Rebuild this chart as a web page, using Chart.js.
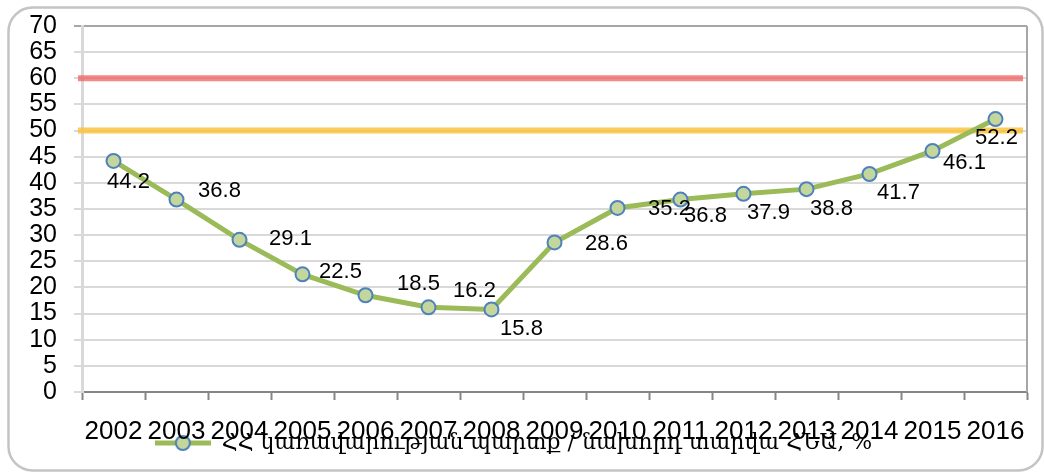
<!DOCTYPE html>
<html>
<head>
<meta charset="utf-8">
<script src="https://cdn.jsdelivr.net/npm/chart.js@4/dist/chart.umd.min.js"></script>
<style>
  html, body { margin: 0; padding: 0; background: #fff; }
  #wrap { width: 1044px; height: 475px; position: relative; }
</style>
</head>
<body>
<div id="wrap"><canvas id="chart"></canvas></div>
<script>
// data
const years = ['2002', '2003', '2004', '2005', '2006', '2007', '2008', '2009', '2010', '2011', '2012', '2013', '2014', '2015', '2016'];
const debtRatio = [44.2, 36.8, 29.1, 22.5, 18.5, 16.2, 15.8, 28.6, 35.2, 36.8, 37.9, 38.8, 41.7, 46.1, 52.2];
const thresholds = [60, 50];
const seriesName = 'ՀՀ կառավարության պարտք / նախորդ տարվա ՀՆԱ, %';

// label placement (manually nudged in the original)
const labelNudge = [[15, 21], [43, -9], [51, -1], [38, -2], [53, -11], [46, -16], [30, 20], [52, 1], [52, 1], [25, 16], [25, 19], [25, 20], [29, 19], [32, 12], [1, 19]];
const thresholdColors = ['rgba(238, 92, 92, 0.72)', 'rgba(250, 192, 50, 0.8)'];

const green = '#9bbb59';
const markerFill = '#c3d69b';
const markerEdge = '#4f81bd';

// legend symbol: line with a circle
const legendIcon = document.createElement('canvas');
legendIcon.width = 56;
legendIcon.height = 18;
(function () {
    const c = legendIcon.getContext('2d');
    c.strokeStyle = green;
    c.lineWidth = 5;
    c.beginPath();
    c.moveTo(0, 9);
    c.lineTo(56, 9);
    c.stroke();
    c.beginPath();
    c.arc(28, 9, 7, 0, Math.PI * 2);
    c.fillStyle = markerFill;
    c.fill();
    c.lineWidth = 2;
    c.strokeStyle = markerEdge;
    c.stroke();
})();

const frame = {
    id: 'frame',
    afterLayout(chart) {
        // legend sits over the lower half of the year labels, as in the original
        chart.legend.top -= 11;
        chart.legend.bottom -= 11;
    },
    beforeDraw(chart) {
        const ctx = chart.ctx;
        ctx.save();
        ctx.strokeStyle = '#c4c4c4';
        ctx.lineWidth = 2.5;
        ctx.beginPath();
        ctx.roundRect(8.5, 7.5, 1034, 463, 24);
        ctx.stroke();
        ctx.restore();
    },
    beforeDatasetsDraw(chart) {
        const ctx = chart.ctx;
        const area = chart.chartArea;
        const y = chart.scales.y;
        ctx.save();
        // right edge of plot
        ctx.strokeStyle = '#a6a6a6';
        ctx.lineWidth = 2;
        ctx.beginPath();
        ctx.moveTo(area.right, area.top);
        ctx.lineTo(area.right, area.bottom);
        ctx.stroke();
        // reference levels
        thresholds.forEach((v, i) => {
            const py = y.getPixelForValue(v);
            ctx.strokeStyle = thresholdColors[i];
            ctx.lineWidth = 6;
            ctx.beginPath();
            ctx.moveTo(area.left - 4, py);
            ctx.lineTo(area.right - 4, py);
            ctx.stroke();
        });
        ctx.restore();
    },
    afterDatasetsDraw(chart) {
        const ctx = chart.ctx;
        const pts = chart.getDatasetMeta(0).data;
        ctx.save();
        ctx.font = '22px "Liberation Sans", Arial, sans-serif';
        ctx.fillStyle = '#000';
        ctx.textAlign = 'center';
        ctx.textBaseline = 'middle';
        pts.forEach((p, i) => {
            const n = labelNudge[i];
            ctx.fillText(debtRatio[i].toFixed(1), p.x + n[0], p.y + n[1]);
        });
        ctx.restore();
    }
};

new Chart(document.getElementById('chart'), {
    type: 'line',
    data: {
        labels: years,
        datasets: [{
            label: seriesName,
            data: debtRatio,
            borderColor: green,
            borderWidth: 5,
            pointRadius: 7,
            pointBackgroundColor: markerFill,
            pointBorderColor: markerEdge,
            pointBorderWidth: 2,
            tension: 0,
            fill: false
        }]
    },
    options: {
        responsive: true,
        maintainAspectRatio: false,
        animation: false,
        layout: { padding: { left: 0, right: 17, top: 26, bottom: 0 } },
        plugins: {
            tooltip: { enabled: false },
            legend: {
                position: 'bottom',
                labels: {
                    usePointStyle: true,
                    pointStyleWidth: 56,
                    padding: 4,
                    color: '#000',
                    font: { family: '"DejaVu Serif", "DejaVu Sans", serif', size: 22 },
                    generateLabels: (chart) => [{
                        text: seriesName,
                        pointStyle: legendIcon,
                        fillStyle: markerFill,
                        strokeStyle: markerEdge,
                        lineWidth: 0,
                        datasetIndex: 0
                    }]
                }
            }
        },
        scales: {
            x: {
                offset: true,
                afterFit: (s) => { s.height = 47; },
                grid: {
                    offset: true,
                    drawOnChartArea: false,
                    drawTicks: true,
                    tickLength: 8,
                    tickColor: '#868686',
                    tickWidth: 2
                },
                border: { color: '#868686', width: 2 },
                ticks: {
                    autoSkip: false,
                    maxRotation: 0,
                    padding: 16,
                    color: '#000',
                    font: { family: '"Liberation Sans", Arial, sans-serif', size: 26 }
                }
            },
            y: {
                min: 0,
                max: 70,
                afterFit: (s) => { s.width = 82; s.paddingTop = 0; s.paddingBottom = 0; },
                grid: {
                    color: (c) => c.tick && c.tick.value === 70 ? '#a6a6a6' : '#d9d9d9',
                    lineWidth: 2,
                    tickLength: 8
                },
                border: { color: '#d9d9d9', width: 3 },
                ticks: {
                    stepSize: 5,
                    autoSkip: false,
                    padding: 17,
                    color: '#000',
                    font: { family: '"Liberation Sans", Arial, sans-serif', size: 25 }
                }
            }
        }
    },
    plugins: [frame]
});
</script>
</body>
</html>
